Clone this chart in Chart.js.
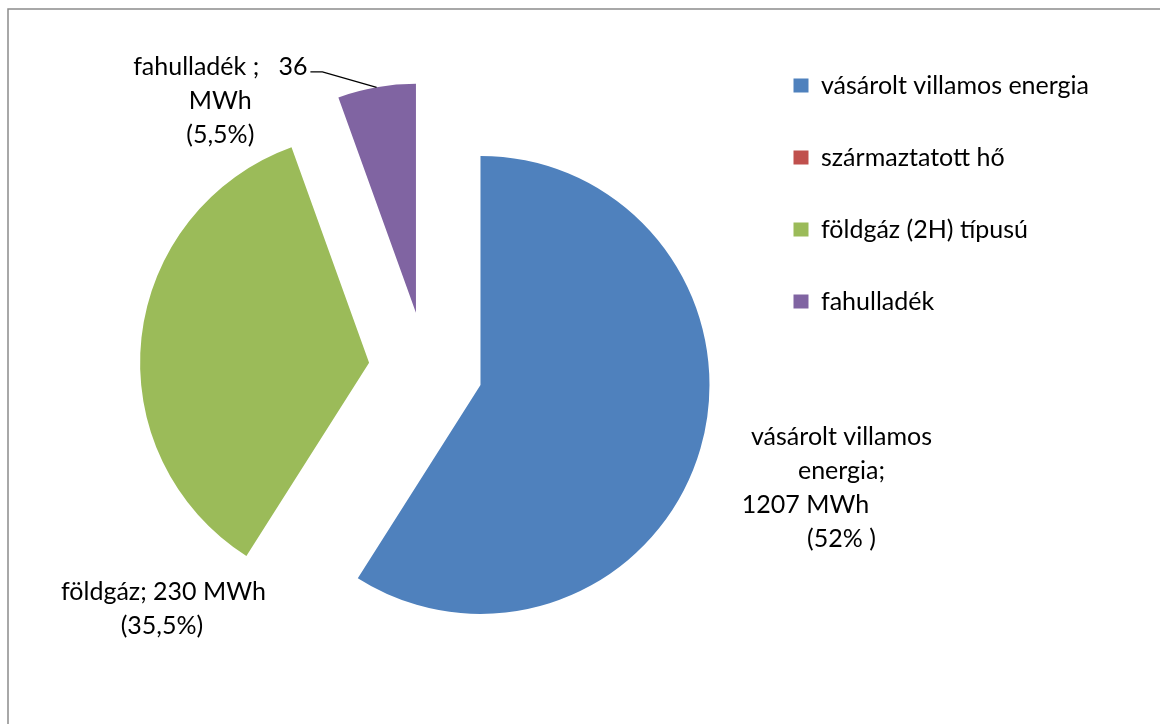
<!DOCTYPE html>
<html lang="hu">
<head>
<meta charset="UTF-8">
<title>Energiafelhasználás</title>
<script src="https://cdn.jsdelivr.net/npm/chart.js"></script>
<style>
  body { margin: 0; background: #fff; }
  canvas { display: block; }
</style>
</head>
<body>
<canvas id="energyChart" width="1160" height="724"></canvas>
<script>
const categories = ['vásárolt villamos energia', 'származtatott hő', 'földgáz (2H) típusú', 'fahulladék'];
const shares = [59, 0, 35.5, 5.5];   // slice sizes as drawn (%)
const sliceColors = ['#4F81BD', '#C0504D', '#9BBB59', '#8064A2'];
const sliceLabels = [
  ['vásárolt villamos', 'energia;', '1207 MWh', '(52% )'],
  [],
  ['földgáz; 230 MWh', '(35,5%)'],
  ['fahulladék ;   36', 'MWh', '(5,5%)']
];

const FONT = 'Lato, "Open Sans", sans-serif';

// gray frame at top and left, like the original chart box
const framePlugin = {
  id: 'frame',
  beforeDraw(chart) {
    const ctx = chart.ctx;
    ctx.save();
    ctx.strokeStyle = '#8c8c8c';
    ctx.lineWidth = 1.5;
    ctx.beginPath();
    ctx.moveTo(8, chart.height);
    ctx.lineTo(8, 9);
    ctx.lineTo(chart.width, 9);
    ctx.stroke();
    ctx.restore();
  }
};

// pull every slice away from the centre along its bisector
const explodePlugin = {
  id: 'explode',
  afterDatasetUpdate(chart, args, opts) {
    const meta = chart.getDatasetMeta(args.index);
    meta.data.forEach(arc => {
      const mid = (arc.startAngle + arc.endAngle) / 2;
      arc.x += Math.cos(mid) * opts.distance;
      arc.y += Math.sin(mid) * opts.distance;
    });
  }
};

// multi-line data labels placed around each slice
const sliceLabelPlugin = {
  id: 'sliceLabels',
  afterDatasetsDraw(chart, args, opts) {
    const ctx = chart.ctx;
    const arcs = chart.getDatasetMeta(0).data;
    ctx.save();
    ctx.font = opts.font;
    ctx.fillStyle = '#000';
    ctx.textAlign = 'center';
    ctx.textBaseline = 'middle';
    arcs.forEach((arc, i) => {
      const lines = sliceLabels[i];
      const place = opts.places[i];
      if (!lines.length || !place) return;
      const a = (place.angle - 90) * Math.PI / 180;
      const cx = arc.x + Math.cos(a) * arc.outerRadius * place.dist;
      const cy = arc.y + Math.sin(a) * arc.outerRadius * place.dist;
      const top = cy - (lines.length - 1) * opts.lineHeight / 2;
      lines.forEach((t, k) => {
        ctx.fillText(t, cx + (place.shift[k] || 0), top + k * opts.lineHeight);
      });
      if (place.leader) {
        const w = ctx.measureText(lines[0]).width;
        const x0 = cx + (place.shift[0] || 0) + w / 2 + 3;
        const y0 = top + 5;
        const mid = (arc.startAngle + arc.endAngle) / 2;
        ctx.strokeStyle = '#000';
        ctx.lineWidth = 1.3;
        ctx.beginPath();
        ctx.moveTo(x0, y0);
        ctx.lineTo(x0 + 12, y0);
        ctx.lineTo(arc.x + Math.cos(mid) * arc.outerRadius, arc.y + Math.sin(mid) * arc.outerRadius);
        ctx.stroke();
      }
    });
    ctx.restore();
  }
};

new Chart(document.getElementById('energyChart'), {
  type: 'pie',
  data: {
    labels: categories,
    datasets: [{
      data: shares,
      backgroundColor: sliceColors,
      borderWidth: 0
    }]
  },
  options: {
    responsive: false,
    animation: false,
    events: [],
    radius: 229,
    layout: { padding: { top: 26, bottom: 12, left: 105, right: 61 } },
    plugins: {
      legend: {
        position: 'right',
        align: 'start',
        labels: {
          boxWidth: 15,
          boxHeight: 14,
          padding: 47,
          color: '#000',
          font: { family: FONT, size: 25 }
        }
      },
      tooltip: { enabled: false },
      explode: { distance: 57 },
      sliceLabels: {
        font: '25px ' + FONT,
        lineHeight: 34,
        places: [
          { angle: 106, dist: 1.64, shift: [0, 0, -36, 0] },
          null,
          { angle: 219.9, dist: 1.40, shift: [0, -1.5] },
          { angle: 317.3, dist: 1.26, shift: [0, 0, 0], leader: true }
        ]
      }
    }
  },
  plugins: [framePlugin, explodePlugin, sliceLabelPlugin]
});
</script>
</body>
</html>
